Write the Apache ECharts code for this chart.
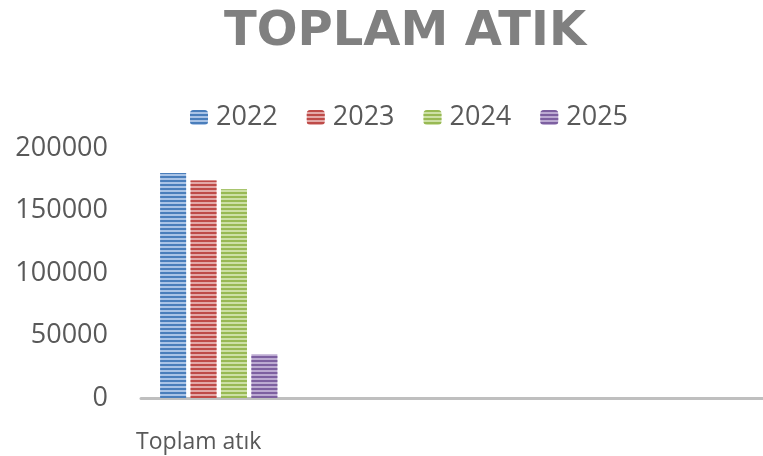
<!DOCTYPE html>
<html>
<head>
<meta charset="utf-8">
<script src="https://cdn.jsdelivr.net/npm/echarts@6/dist/echarts.min.js"></script>
<style>
  html, body { margin: 0; padding: 0; background: #fff; }
  #chart { width: 763px; height: 456px; }
</style>
</head>
<body>
<div id="chart"></div>
<script>
  // data
  const categories = ['Toplam atık', '', '', '']
  const seriesNames = ['2022', '2023', '2024', '2025']
  const values2022 = [180000]
  const values2023 = [174000]
  const values2024 = [167000]
  const values2025 = [35000]
  const yTicks = [0, 50000, 100000, 150000, 200000]

  const seriesValues = [values2022, values2023, values2024, values2025]
  // light base, darker stripes
  const baseColors = ['#a9c3e6', '#e3a9a8', '#cde0a6', '#bcaad2']
  const stripeColors = ['#4a7ebb', '#be4b48', '#98b954', '#7d60a0']

  const font = '"Open Sans", "DejaVu Sans", sans-serif'

  const chart = echarts.init(document.getElementById('chart'))
  chart.setOption({
    animation: false,
    title: {
      text: 'TOPLAM ATIK',
      left: 400,
      top: 4,
      textAlign: 'center',
      textStyle: {
        fontFamily: '"DejaVu Sans", sans-serif',
        fontSize: 48,
        fontWeight: 'bold',
        color: '#808080'
      }
    },
    legend: {
      data: seriesNames,
      top: 99,
      left: 185,
      itemWidth: 18,
      itemHeight: 15,
      itemGap: 29,
      textStyle: { fontFamily: font, fontSize: 27, color: '#595959', padding: [0, 0, 0, 3] }
    },
    grid: { left: 141, right: 0, top: 148, bottom: 58 },
    xAxis: {
      type: 'category',
      data: categories,
      axisLine: { lineStyle: { color: '#bfbfbf', width: 3 } },
      axisTick: { show: false },
      axisLabel: {
        fontFamily: font,
        fontSize: 23,
        color: '#595959',
        margin: 33,
        padding: [0, 40, 0, 0],
        interval: 0
      }
    },
    yAxis: {
      type: 'value',
      min: yTicks[0],
      max: yTicks[yTicks.length - 1],
      interval: 50000,
      splitLine: { show: false },
      axisLine: { show: false },
      axisTick: { show: false },
      axisLabel: {
        fontFamily: font,
        fontSize: 27,
        color: '#595959',
        margin: 33,
        formatter: v => String(v)
      }
    },
    series: seriesNames.map((name, i) => ({
      name: name,
      type: 'bar',
      data: seriesValues[i],
      barWidth: 26,
      barGap: '17%',
      itemStyle: {
        color: baseColors[i],
        decal: {
          symbol: 'rect',
          symbolSize: 1,
          dashArrayX: [1, 0],
          dashArrayY: [2, 2],
          rotation: 0,
          color: stripeColors[i]
        }
      }
    }))
  })
</script>
</body>
</html>
